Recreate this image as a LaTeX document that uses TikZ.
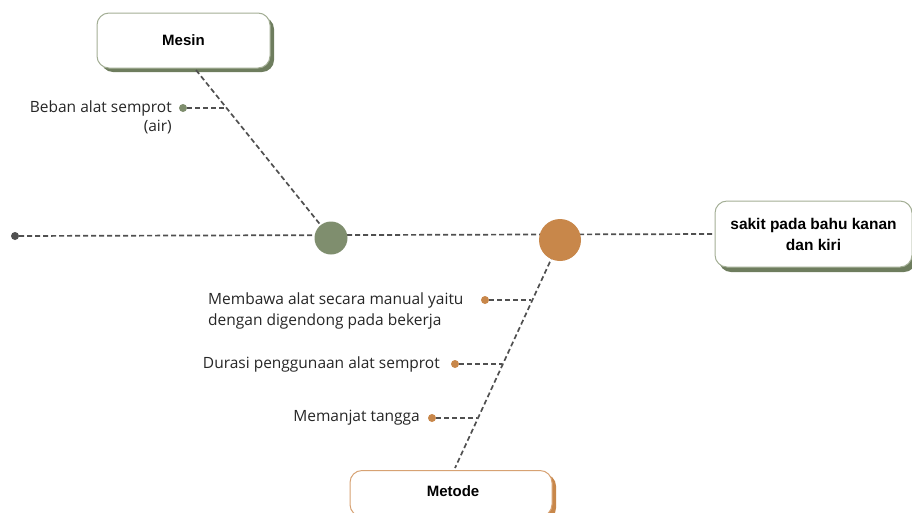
\documentclass[tikz,border=0pt]{standalone}
\usepackage{fontspec}
\setmainfont{Open Sans}
\newfontfamily\titlefont{Liberation Sans}
\definecolor{sage}{HTML}{7F8E6E}
\definecolor{sagedark}{HTML}{6E7D5E}
\definecolor{sageline}{HTML}{A3AE95}
\definecolor{ochre}{HTML}{C8874A}
\definecolor{ochreline}{HTML}{D7A273}
\definecolor{spine}{HTML}{505050}
\begin{document}
\begin{tikzpicture}[x=1pt,y=-1pt,
  link/.style={draw=spine,line width=1.7pt,dash pattern=on 5pt off 3pt},
  leaf/.style={font=\fontsize{15.5}{21}\selectfont,text=black!85,inner sep=0pt},
  ttl/.style={font=\titlefont\bfseries\fontsize{15}{21}\selectfont,align=center},
  knot/.style={circle,inner sep=0pt,minimum size=#1},
  bullet/.style={circle,inner sep=0pt,minimum size=8pt}]
\useasboundingbox (0,0) rectangle (912,512);

% shadows of the labelled boxes
\fill[sagedark,rounded corners=12pt] (101,17) rectangle (274,72);
\fill[sagedark,rounded corners=12pt] (719,206) rectangle (916,272);
\fill[ochre,rounded corners=12pt] (354,474) rectangle (556,520);

% labelled boxes
\node[draw=sageline,line width=1pt,fill=white,rounded corners=12pt,minimum width=173pt,minimum height=55pt,ttl] (mesin) at (183.5,40.5) {Mesin};
\node[draw=sageline,line width=1pt,fill=white,rounded corners=12pt,minimum width=197pt,minimum height=66pt,ttl,font=\titlefont\bfseries\fontsize{15.5}{21}\selectfont] (sakit) at (813.5,234) {sakit pada bahu kanan\\dan kiri};
\node[draw=ochreline,line width=1pt,fill=white,rounded corners=12pt,minimum width=202pt,minimum height=46pt,anchor=north] (metode) at (451,470) {};
\node[ttl] at (453,491) {Metode};

% spine
\node[bullet,fill=spine] (tail) at (15,236) {};
\coordinate (mfoot) at (196,70);
\coordinate (tfoot) at (455,468);
\node[knot=33pt] (g) at (331,238) {};
\node[knot=42pt] (o) at (560,240) {};
\draw[link] (tail) -- (sakit.west);
\draw[link] (mfoot) -- (g.center);
\draw[link] (o.center) -- (tfoot);
\fill[sage] (g) circle (16.5pt);
\fill[ochre] (o) circle (21pt);

% Mesin branch
\coordinate (j1) at (226,108);
\node[bullet,fill=sage] (d1) at (183,108) {};
\draw[link] (d1) -- (j1);
\node[leaf,anchor=east,align=right,font=\fontsize{15.5}{19.5}\selectfont] at (172,117.5) {Beban alat semprot\\(air)};

% Metode branches
\coordinate (j2) at (531,300);
\coordinate (j3) at (502,364);
\coordinate (j4) at (477,418);
\node[bullet,fill=ochre] (d2) at (485,300) {};
\node[bullet,fill=ochre] (d3) at (455,364) {};
\node[bullet,fill=ochre] (d4) at (432,418) {};
\draw[link] (d2) -- (j2);
\draw[link] (d3) -- (j3);
\draw[link] (d4) -- (j4);
\node[leaf,anchor=west,align=left] at (208,310.5) {Membawa alat secara manual yaitu\\dengan digendong pada bekerja};
\node[leaf,anchor=east] at (440,364) {Durasi penggunaan alat semprot};
\node[leaf,anchor=east] at (420,418) {Memanjat tangga};
\end{tikzpicture}
\end{document}
